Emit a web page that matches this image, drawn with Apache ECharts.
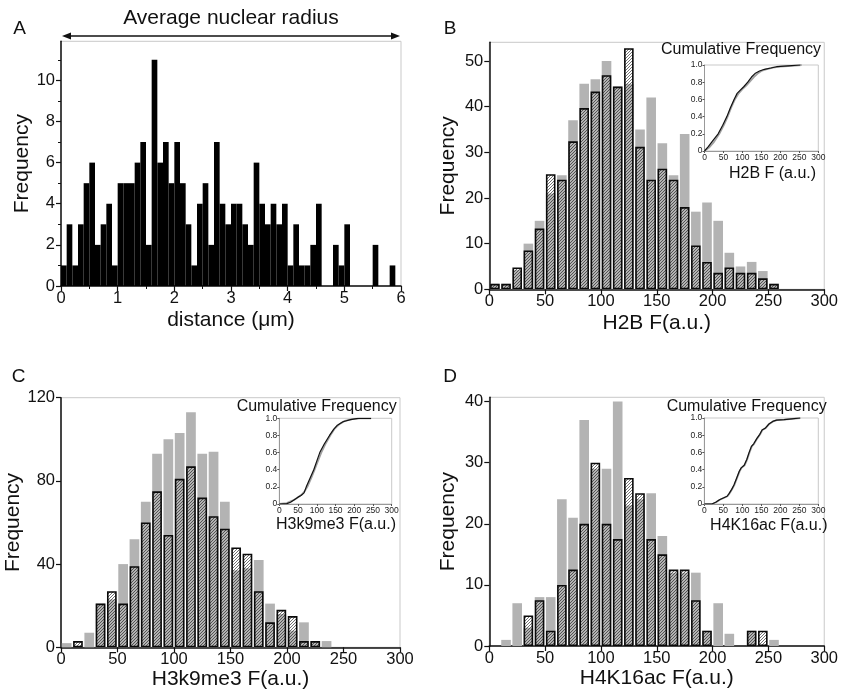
<!DOCTYPE html>
<html><head><meta charset="utf-8">
<script src="https://cdn.jsdelivr.net/npm/echarts@6/dist/echarts.min.js"></script>
<style>html,body{margin:0;padding:0;background:#fff}#c{width:841px;height:694px}</style>
</head><body><div id="c"></div>
<script>
// ---------- DATA ----------
const binsA = ['0.0','0.1','0.2','0.3','0.4','0.5','0.6','0.7','0.8','0.9','1.0','1.1','1.2','1.3','1.4','1.5','1.6','1.7','1.8','1.9','2.0','2.1','2.2','2.3','2.4','2.5','2.6','2.7','2.8','2.9','3.0','3.1','3.2','3.3','3.4','3.5','3.6','3.7','3.8','3.9','4.0','4.1','4.2','4.3','4.4','4.5','4.6','4.7','4.8','4.9','5.0','5.1','5.2','5.3','5.4','5.5','5.6','5.7','5.8','5.9'];
const freqA = [1,3,1,3,5,6,2,3,4,1, 5,5,5,6,7,2,11,6,7,5, 7,5,3,1,4,5,2,7,4,3, 4,4,3,2,6,4,3,4,3,4, 1,3,1,1,2,4,0,0,2,1, 3,0,0,0,0,2,0,0,1,0];

const binsF = ['0','10','20','30','40','50','60','70','80','90','100','110','120','130','140','150','160','170','180','190','200','210','220','230','240','250','260','270','280','290'];

const grayB  = [1.2,1.2,4.3,10,15,21,25,37,45,46,50,44.4,45,35,42,32,25,34,17,19,15,8,5,6,4,1.2,0,0,0,0];
const hatchB = [1.2,1.2,4.8,8.5,13.3,25.2,24,32.4,39.7,43.3,46.9,44.4,52.8,31.2,24,26.4,24,18,9.6,6,3.6,4.8,3.6,3.6,2.4,1.2,0,0,0,0];

const grayC  = [2,0,7,21,23,40,52,70,93,100,103,113,93,94,70,37,38,42,21,16,8,12,3,3,0,0,0,0,0,0];
const hatchC = [0,3,0,21,27,21,39,60,75,54,81,87,72,63,57,48,45,27,12,18,15,3,3,0,0,0,0,0,0,0];

const grayD  = [0,1,7,3,8,8,24,21,37,29,29,40,23,24,25,18,12,12,12,2.5,7,2,0,2.5,0,1,0,0,0,0];
const hatchD = [0,0,0,5,7.5,2.5,10,12.5,20,30,20,17.5,27.5,25,17.5,15,12.5,12.5,7.5,2.5,0,0,0,2.5,2.5,0,0,0,0,0];

// cumulative-frequency insets: [F, cumulative fraction]
const cumBblack = [[0,0],[10,0.05],[20,0.11],[36,0.2],[48,0.3],[59,0.4],[68,0.5],[78,0.6],[86,0.67],[95,0.71],[104,0.75],[114,0.8],[124,0.86],[133,0.9],[145,0.93],[158,0.95],[175,0.965],[190,0.98],[220,0.99],[252,1.0]];
const cumBgray  = [[0,0],[12,0.04],[24,0.1],[39,0.2],[51,0.3],[61,0.4],[70,0.5],[80,0.6],[90,0.67],[100,0.72],[110,0.76],[120,0.81],[130,0.86],[140,0.9],[150,0.93],[162,0.95],[180,0.97],[200,0.98],[230,0.99],[256,1.0]];
const cumCblack = [[0,0],[20,0.005],[30,0.02],[40,0.05],[50,0.08],[58,0.1],[66,0.13],[72,0.2],[82,0.3],[92,0.4],[100,0.5],[108,0.6],[120,0.7],[134,0.8],[145,0.87],[155,0.92],[170,0.96],[190,0.985],[210,1.0],[245,1.0]];
const cumCgray  = [[0,0],[20,0.01],[30,0.03],[40,0.05],[50,0.08],[60,0.11],[68,0.15],[76,0.21],[86,0.31],[95,0.41],[103,0.5],[112,0.6],[123,0.7],[136,0.8],[148,0.88],[160,0.93],[175,0.97],[195,0.99],[215,1.0],[245,1.0]];
const cumDblack = [[0,0],[20,0],[30,0.02],[40,0.05],[50,0.07],[60,0.09],[65,0.12],[72,0.17],[78,0.22],[85,0.3],[92,0.38],[97,0.42],[105,0.45],[112,0.52],[118,0.6],[124,0.67],[130,0.7],[138,0.76],[146,0.81],[152,0.86],[160,0.88],[170,0.93],[180,0.96],[190,0.975],[210,0.98],[230,0.99],[252,1.0]];
const cumDgray  = [[0,0],[21,0],[31,0.02],[41,0.05],[51,0.07],[61,0.09],[66,0.12],[73,0.17],[79,0.22],[86,0.3],[93,0.38],[98,0.42],[106,0.45],[113,0.52],[119,0.6],[125,0.67],[131,0.7],[139,0.76],[147,0.81],[153,0.86],[161,0.88],[171,0.93],[181,0.96],[191,0.975],[211,0.98],[231,0.99],[253,1.0]];

const ticksA = [0,2,4,6,8,10];
const ticksB = [0,10,20,30,40,50];
const ticksC = [0,40,80,120];
const ticksD = [0,10,20,30,40];

// ---------- STYLE ----------
const FONT = '"Liberation Sans", Arial, Helvetica, sans-serif';
function hatchCanvas(){
  const c = document.createElement('canvas'); c.width = 3; c.height = 3;
  const g = c.getContext('2d');
  g.strokeStyle = 'rgba(20,20,20,0.6)'; g.lineWidth = 1;
  g.beginPath();
  g.moveTo(0,3); g.lineTo(3,0);
  g.moveTo(-1,1); g.lineTo(1,-1);
  g.moveTo(2,4); g.lineTo(4,2);
  g.stroke();
  return c;
}
const hatchFill = {image: hatchCanvas(), repeat: 'repeat'};
const noZero = arr => arr.map(v => v === 0 ? '-' : v);

const chart = echarts.init(document.getElementById('c'));

const mainGrids = [
  {left:61, top:41.3, width:340, height:244.7},
  {left:489.3, top:42.3, width:335.7, height:247},
  {left:61, top:397.7, width:339, height:249.6},
  {left:489.3, top:397.3, width:339, height:248.7}
];
const insetGrids = [
  {left:704.5, top:65, width:113.8, height:86},
  {left:279.3, top:418.3, width:112.4, height:85.7},
  {left:704.3, top:418, width:114, height:86}
];
const grids = mainGrids.concat(insetGrids).map(g => Object.assign({show:true, borderColor:'#c9c9c9', borderWidth:1, containLabel:false}, g));

function catX(gi, cats){
  return {type:'category', gridIndex:gi, data:cats, show:false, boundaryGap:true};
}
function mainValX(gi, max, interval, name, gap, minor){
  return {type:'value', gridIndex:gi, min:0, max:max, interval:interval, position:'bottom',
    name:name, nameLocation:'middle', nameGap:gap,
    nameTextStyle:{fontFamily:FONT, fontSize:21, color:'#111'},
    axisLine:{show:true, lineStyle:{color:'#111', width:1.5}},
    axisTick:{show:true, inside:false, length:5, lineStyle:{color:'#111', width:1.2}},
    minorTick:{show:!!minor, splitNumber:2, length:3, lineStyle:{color:'#111'}},
    axisLabel:{fontFamily:FONT, fontSize:16.5, color:'#111', margin:4},
    splitLine:{show:false}};
}
function mainValY(gi, max, ticks, gap, minor){
  return {type:'value', gridIndex:gi, min:0, max:max, interval:ticks[1]-ticks[0],
    name:'Frequency', nameLocation:'middle', nameGap:gap,
    nameTextStyle:{fontFamily:FONT, fontSize:21, color:'#111'},
    axisLine:{show:true, lineStyle:{color:'#111', width:1.5}},
    axisTick:{show:true, inside:false, length:5, customValues:ticks, lineStyle:{color:'#111', width:1.2}},
    minorTick:{show:!!minor, splitNumber:2, length:3, lineStyle:{color:'#111'}},
    axisLabel:{fontFamily:FONT, fontSize:16.5, color:'#111', margin:6, customValues:ticks},
    splitLine:{show:false}};
}
function insetX(gi){
  return {type:'value', gridIndex:gi, min:0, max:300, interval:50,
    axisLine:{show:true, lineStyle:{color:'#999', width:1}},
    axisTick:{show:true, length:2, lineStyle:{color:'#555'}},
    axisLabel:{fontFamily:FONT, fontSize:8.5, color:'#222', margin:2},
    splitLine:{show:false}};
}
function insetY(gi){
  return {type:'value', gridIndex:gi, min:0, max:1, interval:0.2,
    axisLine:{show:true, lineStyle:{color:'#999', width:1}},
    axisTick:{show:true, length:2, lineStyle:{color:'#555'}},
    axisLabel:{fontFamily:FONT, fontSize:8.5, color:'#222', margin:2,
      formatter: v => v === 0 ? '0' : v.toFixed(1)},
    splitLine:{show:false}};
}

const xAxis = [
  catX(0, binsA), mainValX(0, 6, 1, 'distance (μm)', 24, true),
  catX(1, binsF), mainValX(1, 300, 50, 'H2B F(a.u.)', 23, false),
  catX(2, binsF), mainValX(2, 300, 50, 'H3k9me3 F(a.u.)', 15, false),
  catX(3, binsF), mainValX(3, 300, 50, 'H4K16ac F(a.u.)', 16, false),
  insetX(4), insetX(5), insetX(6)
];
const yAxis = [
  mainValY(0, 11.9, ticksA, 27.5, true),
  mainValY(1, 54.1, ticksB, 31, false),
  mainValY(2, 120, ticksC, 34, false),
  mainValY(3, 40.7, ticksD, 30.5, false),
  insetY(4), insetY(5), insetY(6)
];

function grayBars(xi, yi, data){
  return {type:'bar', xAxisIndex:xi, yAxisIndex:yi, data:noZero(data), barCategoryGap:'14%', barGap:'-100%',
    itemStyle:{color:'#b3b3b3'}, silent:true};
}
function hatchBars(xi, yi, data){
  return {type:'bar', xAxisIndex:xi, yAxisIndex:yi, data:noZero(data), barCategoryGap:'14%', barGap:'-100%',
    itemStyle:{color:hatchFill, borderColor:'#0a0a0a', borderWidth:1.6}, silent:true};
}
function cumLine(xi, yi, data, color, w){
  return {type:'line', xAxisIndex:xi, yAxisIndex:yi, data:data, symbol:'none',
    lineStyle:{color:color, width:w}, silent:true};
}

const series = [
  {type:'bar', xAxisIndex:0, yAxisIndex:0, data:noZero(freqA), barCategoryGap:'0%', itemStyle:{color:'#000'}, silent:true},
  grayBars(2,1,grayB), hatchBars(2,1,hatchB),
  grayBars(4,2,grayC), hatchBars(4,2,hatchC),
  grayBars(6,3,grayD), hatchBars(6,3,hatchD),
  cumLine(8,4,cumBgray,'#a0a0a0',1.8), cumLine(8,4,cumBblack,'#111',1.2),
  cumLine(9,5,cumCgray,'#a0a0a0',1.8), cumLine(9,5,cumCblack,'#111',1.2),
  cumLine(10,6,cumDgray,'#a0a0a0',1.8), cumLine(10,6,cumDblack,'#111',1.2)
];

function txt(x, y, s, size, align){
  return {type:'text', x:x, y:y, style:{text:s, fontFamily:FONT, fontSize:size, fill:'#111',
    align:align || 'center', verticalAlign:'middle'}, silent:true};
}

chart.setOption({
  animation:false,
  backgroundColor:'#fff',
  grid:grids, xAxis:xAxis, yAxis:yAxis, series:series
});

// annotations placed from axis coordinates
const x0 = chart.convertToPixel({xAxisIndex:1}, 0);
const x6 = chart.convertToPixel({xAxisIndex:1}, 6);
const ay = 36;
chart.setOption({
  graphic:[
    txt(19.5, 29, 'A', 19), txt(450, 29, 'B', 19), txt(18.5, 377, 'C', 19), txt(450, 377, 'D', 19),
    txt((x0 + x6) / 2, 18, 'Average nuclear radius', 21),
    {type:'line', shape:{x1:x0 + 4, y1:ay, x2:x6 - 4, y2:ay}, style:{stroke:'#111', lineWidth:1.5}, silent:true},
    {type:'polygon', shape:{points:[[x0 + 1, ay],[x0 + 10, ay - 3.5],[x0 + 10, ay + 3.5]]}, style:{fill:'#111'}, silent:true},
    {type:'polygon', shape:{points:[[x6 - 1, ay],[x6 - 10, ay - 3.5],[x6 - 10, ay + 3.5]]}, style:{fill:'#111'}, silent:true},
    txt(741, 50, 'Cumulative Frequency', 16),
    txt(772.5, 174, 'H2B F (a.u.)', 16),
    txt(316.7, 406.5, 'Cumulative Frequency', 16),
    txt(336, 525, 'H3k9me3 F(a.u.)', 16),
    txt(746.7, 406.5, 'Cumulative Frequency', 16),
    txt(768.8, 525.5, 'H4K16ac F(a.u.)', 16)
  ]
});
</script>
</body></html>
